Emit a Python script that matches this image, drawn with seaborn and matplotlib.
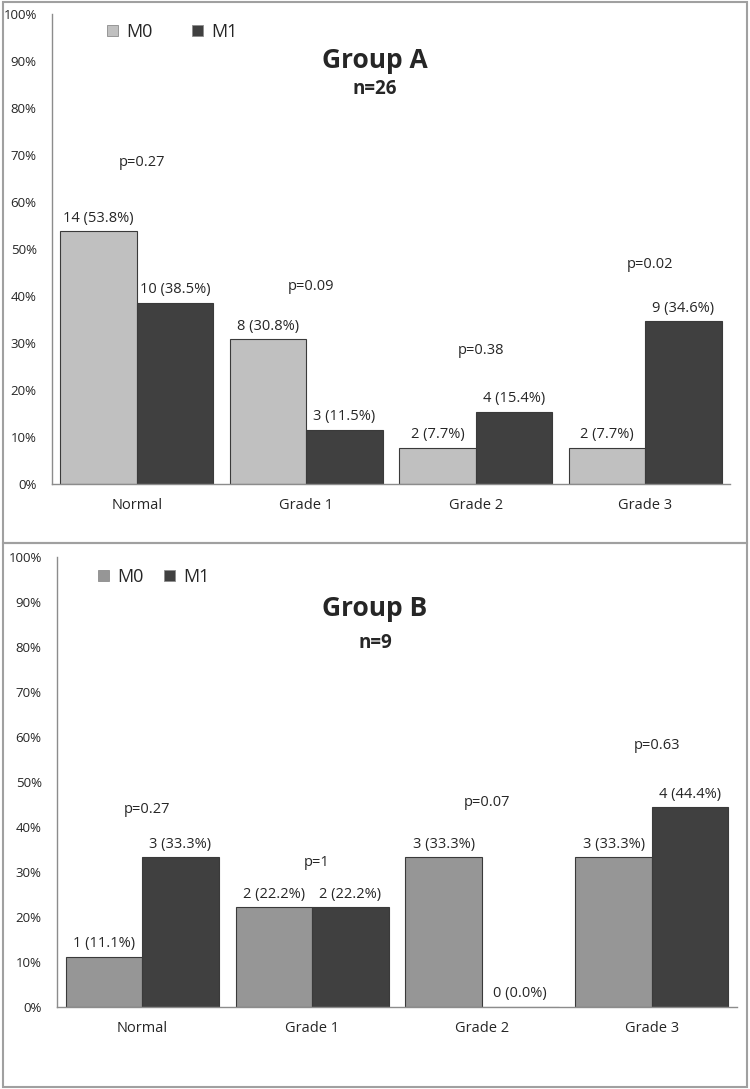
import pandas as pd
import numpy as np
import matplotlib.pyplot as plt
import seaborn as sns
from matplotlib.patches import Rectangle

sns.set_style("white")
plt.rcParams['font.family'] = ['Open Sans', 'DejaVu Sans']

# data
categories = ['Normal', 'Grade 1', 'Grade 2', 'Grade 3']
groups = ['M0', 'M1']

a_m0_pct = [53.8, 30.8, 7.7, 7.7]
a_m0_n = [14, 8, 2, 2]
a_m1_pct = [38.5, 11.5, 15.4, 34.6]
a_m1_n = [10, 3, 4, 9]
a_pvals = ['p=0.27', 'p=0.09', 'p=0.38', 'p=0.02']

b_m0_pct = [11.1, 22.2, 33.3, 33.3]
b_m0_n = [1, 2, 3, 3]
b_m1_pct = [33.3, 22.2, 0.0, 44.4]
b_m1_n = [3, 2, 0, 4]
b_pvals = ['p=0.27', 'p=1', 'p=0.07', 'p=0.63']

# heights of the p-value labels (in % units)
a_p_y = [68.5, 42.1, 28.5, 46.6]
b_p_y = [43.8, 32.2, 45.5, 58.2]

dark = '#404040'


def make_df(m0_pct, m1_pct):
    return pd.DataFrame({
        'cat': categories * 2,
        'grp': ['M0'] * 4 + ['M1'] * 4,
        'pct': m0_pct + m1_pct,
    })


def draw_panel(ax, df, m0_n, m1_n, pvals, p_y, m0_color, legend_xy, colspace):
    sns.barplot(data=df, x='cat', y='pct', hue='grp', order=categories,
                hue_order=groups, palette={'M0': m0_color, 'M1': dark},
                width=0.9, saturation=1, edgecolor='#3a3a3a', linewidth=0.8,
                errorbar=None, ax=ax)
    ax.set_xlim(-0.5, 3.5)
    ax.set_ylim(0, 100)
    ax.set_yticks(np.arange(0, 101, 10))
    ax.set_yticklabels([f'{v}%' for v in range(0, 101, 10)], fontsize=9.5)
    ax.tick_params(axis='y', length=0, pad=11)
    ax.tick_params(axis='x', length=0, pad=10, labelsize=10.5)
    ax.set_xlabel('')
    ax.set_ylabel('')
    for s in ['top', 'right']:
        ax.spines[s].set_visible(False)
    for s in ['left', 'bottom']:
        ax.spines[s].set_color('#8c8c8c')
        ax.spines[s].set_linewidth(1.0)

    for cont, ns in zip(ax.containers, [m0_n, m1_n]):
        labels = [f'{n} ({b.get_height():.1f}%)' for n, b in zip(ns, cont)]
        ax.bar_label(cont, labels=labels, padding=4, fontsize=10.5)

    for i, (txt, y) in enumerate(zip(pvals, p_y)):
        ax.text(i + 0.03, y, txt, ha='center', va='center', fontsize=10.5)

    ax.legend(loc='center left', bbox_to_anchor=legend_xy, ncol=2,
              frameon=False, fontsize=13, handlelength=0.6, handleheight=0.6,
              handletextpad=0.45, columnspacing=colspace, borderpad=0,
              borderaxespad=0)
    for h in ax.get_legend().legend_handles:
        h.set_edgecolor('#8c8c8c')
        h.set_linewidth(0.6)


fig = plt.figure(figsize=(7.5, 10.89), dpi=100)
W, H = 750, 1089

axA = fig.add_axes([52 / W, (H - 484) / H, 678 / W, 470 / H])
draw_panel(axA, make_df(a_m0_pct, a_m1_pct), a_m0_n, a_m1_n, a_pvals, a_p_y,
           '#c0c0c0', (0.081, 0.962), 2.2)

axB = fig.add_axes([57 / W, (H - 1007) / H, 680 / W, 450 / H])
draw_panel(axB, make_df(b_m0_pct, b_m1_pct), b_m0_n, b_m1_n, b_pvals, b_p_y,
           '#969696', (0.060, 0.956), 1.15)

# titles
fig.text(0.5, 1 - 60 / H, 'Group A', ha='center', va='center',
         fontsize=19, fontweight='bold')
fig.text(0.5, 1 - 89 / H, 'n=26', ha='center', va='center',
         fontsize=13.5, fontweight='bold')
fig.text(0.5, 1 - 608 / H, 'Group B', ha='center', va='center',
         fontsize=19, fontweight='bold')
fig.text(0.5, 1 - 643 / H, 'n=9', ha='center', va='center',
         fontsize=13.5, fontweight='bold')

# panel frames
for top, bottom in [(2, 543), (543, 1087)]:
    fig.patches.append(Rectangle((3 / W, (H - bottom) / H), 744 / W,
                                 (bottom - top) / H, transform=fig.transFigure,
                                 fill=False, edgecolor='#a0a0a0', lw=1.5))

plt.savefig('out.png', dpi=100)
